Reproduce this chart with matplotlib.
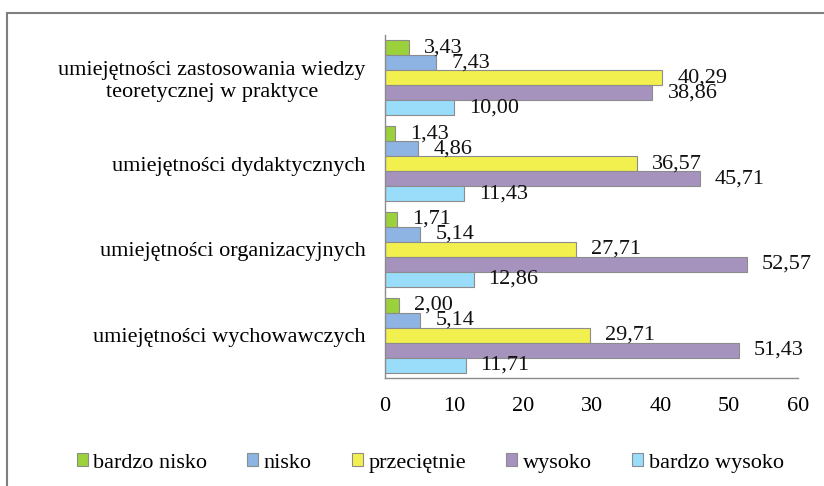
import matplotlib
matplotlib.use("Agg")
import matplotlib.pyplot as plt
import numpy as np
from matplotlib.patches import Rectangle

categories = [
    "umiejętności zastosowania wiedzy\nteoretycznej w praktyce",
    "umiejętności dydaktycznych",
    "umiejętności organizacyjnych",
    "umiejętności wychowawczych",
]
series_names = ["bardzo nisko", "nisko", "przeciętnie", "wysoko", "bardzo wysoko"]
bardzo_nisko = [3.43, 1.43, 1.71, 2.00]
nisko = [7.43, 4.86, 5.14, 5.14]
przecietnie = [40.29, 36.57, 27.71, 29.71]
wysoko = [38.86, 45.71, 52.57, 51.43]
bardzo_wysoko = [10.00, 11.43, 12.86, 11.71]
xticks = [0, 10, 20, 30, 40, 50, 60]

series = [bardzo_nisko, nisko, przecietnie, wysoko, bardzo_wysoko]
colors = ["#9BD23C", "#8DB4E2", "#F2F04E", "#A593BE", "#99DDFB"]

plt.rcParams["font.family"] = ["Liberation Serif", "DejaVu Serif"]
FS = 16

fig = plt.figure(figsize=(8.24, 4.86), dpi=100)
ax = fig.add_axes([385/824, 1-378/486, (798-385)/824, (378-35)/486])

n = len(categories)
bh = 0.175
ypos = np.arange(n)
for i, (vals, col, name) in enumerate(zip(series, colors, series_names)):
    y = ypos - 2*bh + i*bh
    ax.barh(y, vals, height=bh, color=col, edgecolor="#8c8c8c", linewidth=0.8, label=name)
    for yy, v in zip(y, vals):
        ax.annotate(f"{v:.2f}".replace(".", ","), (v, yy), xytext=(15, 0),
                    textcoords="offset pixels",
                    va="center", ha="left", fontsize=FS, color="#111111")

ax.set_ylim(n - 0.5, -0.5)
ax.set_xlim(0, 60)
ax.set_xticks(xticks)
ax.set_xticklabels([str(t) for t in xticks], fontsize=FS)
ax.set_yticks(ypos)
ax.set_yticklabels(categories, fontsize=FS, multialignment="center")
ax.tick_params(axis="y", length=0, pad=14)
ax.tick_params(axis="x", length=0, pad=14)
for s in ["top", "right"]:
    ax.spines[s].set_visible(False)
for s in ["left", "bottom"]:
    ax.spines[s].set_color("#8c8c8c")
    ax.spines[s].set_linewidth(1.0)

handles, labels = ax.get_legend_handles_labels()
leg = fig.legend(handles, labels, loc="center", bbox_to_anchor=(0.522, 1-463/486), ncol=5,
                 frameon=False, fontsize=FS, handlelength=0.5, handleheight=0.5,
                 handletextpad=0.25, columnspacing=1.8)

fig.patches.append(Rectangle((7/824, -0.1), 1.2, 1-13/486+0.1, transform=fig.transFigure,
                             fill=False, edgecolor="#7f7f7f", linewidth=1.5))

fig.savefig("out.png", dpi=100)
